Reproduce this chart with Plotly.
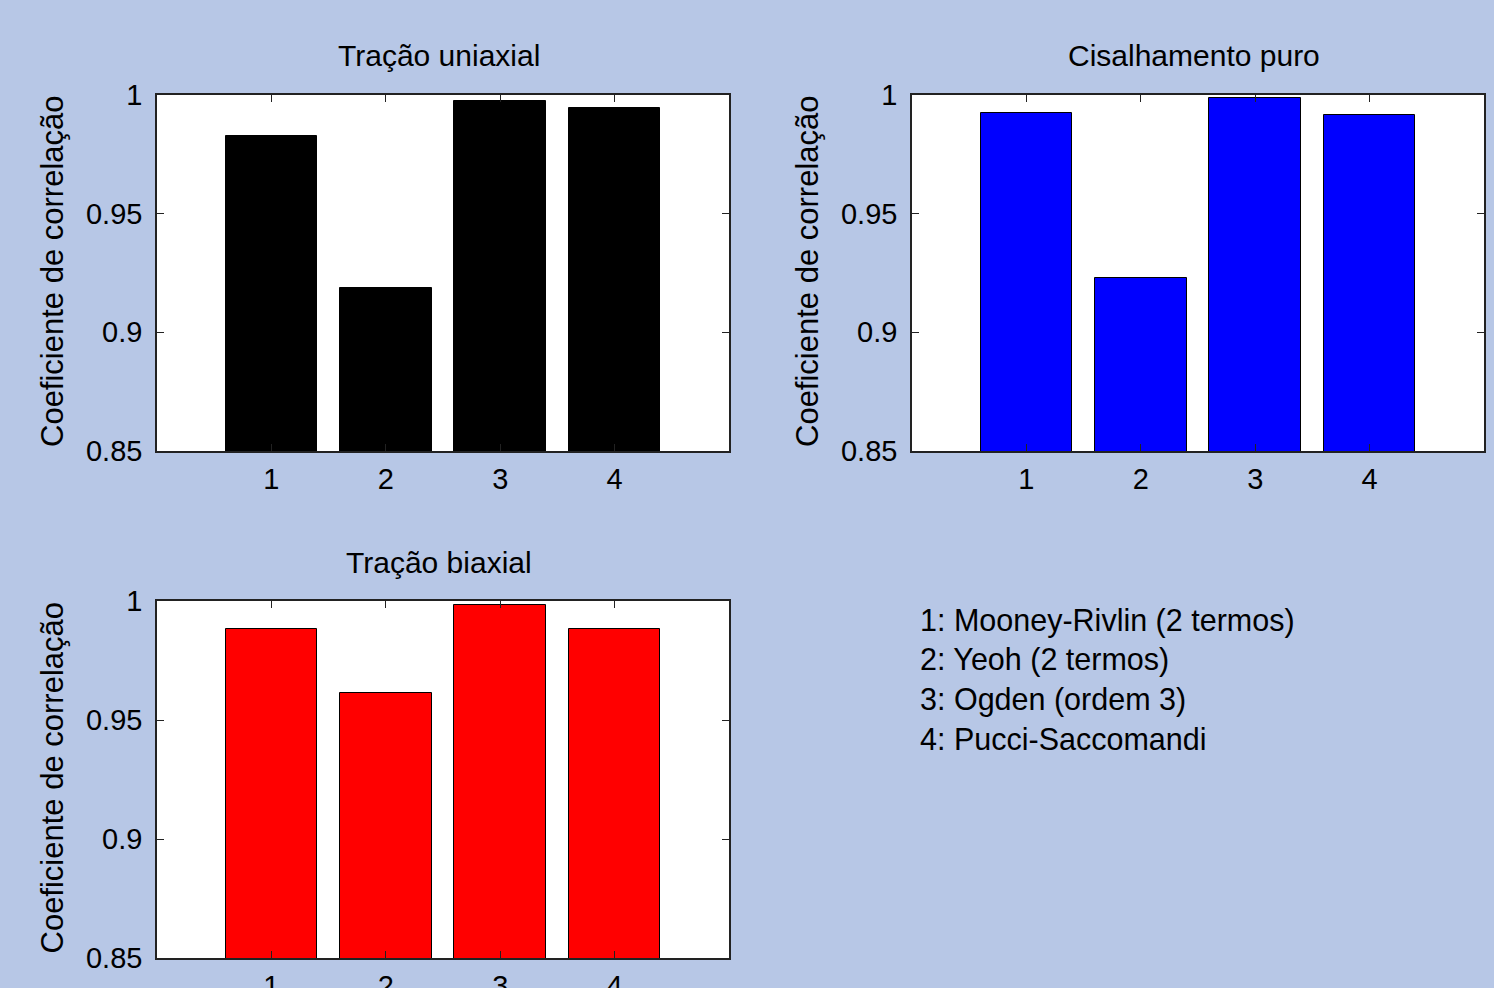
import plotly.graph_objects as go

# Model indices and correlation coefficients for each loading mode
modelos = [1, 2, 3, 4]
tracao_uniaxial = [0.9827, 0.9187, 0.9975, 0.9945]
cisalhamento_puro = [0.9924, 0.9229, 0.9987, 0.9916]
tracao_biaxial = [0.9882, 0.9613, 0.9983, 0.9882]

titulos = ["Tração uniaxial", "Cisalhamento puro", "Tração biaxial"]
legenda = [
    "1: Mooney-Rivlin (2 termos)",
    "2: Yeoh (2 termos)",
    "3: Ogden (ordem 3)",
    "4: Pucci-Saccomandi",
]
y_ticks = [0.85, 0.9, 0.95, 1]
y_ticktext = ["0.85", "0.9", "0.95", "1"]

W, H = 1494, 988
BG = "#B7C7E6"
FONT = "Liberation Sans, Arial, sans-serif"

fig = go.Figure()

series = [
    (tracao_uniaxial, "#000000", "x", "y"),
    (cisalhamento_puro, "#0000FF", "x2", "y2"),
    (tracao_biaxial, "#FF0000", "x3", "y3"),
]
for vals, cor, xa, ya in series:
    fig.add_trace(go.Bar(
        x=modelos, y=vals, width=0.8, base=0,
        marker=dict(color=cor, line=dict(color="#000000", width=1)),
        xaxis=xa, yaxis=ya, showlegend=False, hoverinfo="x+y",
    ))


def px_x(p):
    return p / W


def px_y(p):
    return 1 - p / H


# Axes boxes in pixel coordinates: (left, right, top, bottom)
boxes = [
    (157, 729, 95, 451),
    (912, 1484, 95, 451),
    (157, 729, 601, 958),
]

axis_common = dict(
    showline=True, linecolor="#222222", linewidth=1.5, mirror="ticks",
    ticks="inside", ticklen=7, tickcolor="#222222", tickwidth=1,
    showgrid=False, zeroline=False, automargin=False,
    tickfont=dict(family=FONT, size=29, color="#000000"),
)

layout_axes = {}
for i, (l, r, t, b) in enumerate(boxes):
    sfx = "" if i == 0 else str(i + 1)
    layout_axes["xaxis" + sfx] = dict(
        axis_common, domain=[px_x(l), px_x(r)], range=[0, 5],
        tickvals=modelos, ticktext=[str(m) for m in modelos],
        anchor="y" + sfx, ticklabelstandoff=1,
    )
    layout_axes["yaxis" + sfx] = dict(
        axis_common, domain=[px_y(b), px_y(t)], range=[0.85, 1],
        tickvals=y_ticks, ticktext=y_ticktext,
        anchor="x" + sfx, ticklabelstandoff=7,
    )

annotations = []
for (l, r, t, b), titulo in zip(boxes, titulos):
    annotations.append(dict(
        text=titulo, x=px_x((l + r) / 2 - 4), y=px_y(t - 39),
        xref="paper", yref="paper", showarrow=False,
        xanchor="center", yanchor="middle",
        font=dict(family=FONT, size=30, color="#000000"),
    ))
    annotations.append(dict(
        text="Coeficiente de correlação", x=px_x(l - 105), y=px_y((t + b) / 2 - 2),
        xref="paper", yref="paper", showarrow=False, textangle=-90,
        xanchor="center", yanchor="middle",
        font=dict(family=FONT, size=31, color="#000000"),
    ))

for k, linha in enumerate(legenda):
    annotations.append(dict(
        text=linha, x=px_x(918), y=px_y(620 + 39.5 * k),
        xref="paper", yref="paper", showarrow=False,
        xanchor="left", yanchor="middle",
        font=dict(family=FONT, size=30.5, color="#000000"),
    ))

fig.update_layout(
    width=W, height=H,
    margin=dict(l=0, r=0, t=0, b=0, autoexpand=False),
    paper_bgcolor=BG, plot_bgcolor="#FFFFFF",
    bargap=0, annotations=annotations,
    **layout_axes,
)

fig.write_html("out.html", include_plotlyjs=True, config={"displayModeBar": False})
